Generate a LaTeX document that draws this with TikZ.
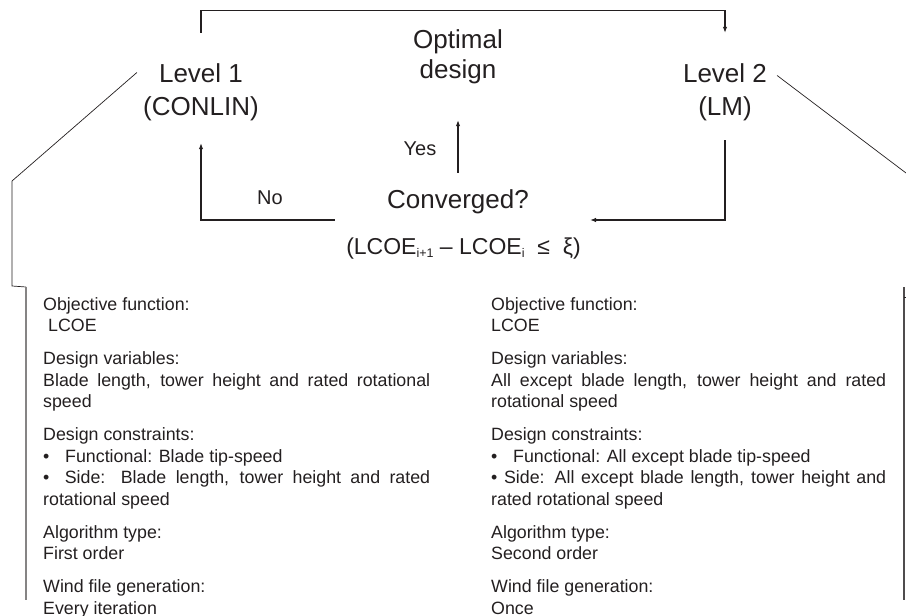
\documentclass[tikz,border=0pt]{standalone}
\usepackage{fontspec}
\setmainfont{Liberation Sans}
\usetikzlibrary{arrows.meta}
\definecolor{ink}{HTML}{231F20}
\newcommand{\jl}[2]{\makebox[#1][s]{#2}}
\newcommand{\sbs}[1]{\raisebox{-3pt}{\fontsize{12.5}{12.5}\selectfont #1}}
\begin{document}
\begin{tikzpicture}[x=1pt,y=-1pt,
  title/.style={font=\fontsize{26}{31}\selectfont, text=ink, inner sep=0pt, anchor=base, text height=19pt, text depth=6pt},
  small/.style={font=\fontsize{20}{24}\selectfont, text=ink, inner sep=0pt, anchor=base},
  formula/.style={font=\fontsize{23}{27}\selectfont, text=ink, inner sep=0pt, anchor=base},
  body/.style={font=\fontsize{17.8}{21.5}\selectfont, text=ink, inner sep=0pt, anchor=north west, align=left},
  flow/.style={line width=1.1pt, draw=ink},
  arr/.style={flow, -{Latex[length=6pt,width=4.5pt]}},
  link/.style={line width=0.7pt, draw=ink},
  bracket/.style={line width=1.2pt, draw=ink!55}]
\useasboundingbox (0,0) rectangle (906,616);

% titles
\node[title] (l1) at (201,82) {Level 1};
\node[title] (l1b) at (201,115) {(CONLIN)};
\node[title] (opt) at (458,48) {Optimal};
\node[title] (optb) at (458,78) {design};
\node[title] (l2) at (725,82) {Level 2};
\node[title] (l2b) at (725,115) {(LM)};
\node[title] (conv) at (458,208) {Converged?};
\node[small] (yes) at (420,155) {Yes};
\node[small] (no) at (270,204) {No};
\node[formula] (form) at (463.5,254) {(LCOE\sbs{i+1} – LCOE\sbs{i}\ \ ≤\ \ ξ)};

% flow connectors
\draw[arr] ([yshift=30pt]l1.north) |- ([yshift=52pt]l2.north) -- ([yshift=30pt]l2.north);
\draw[arr] ([yshift=16pt]conv.north) -- ([yshift=-36pt]optb.south);
\draw[arr] ([xshift=-52pt,yshift=-18.5pt]conv.west) -| ([yshift=-22pt]l1b.south);
\draw[arr] ([yshift=-19pt]l2b.south) |- ([xshift=61pt,yshift=-18.5pt]conv.east);

% blocks
\node[body] (lb) at (43,297) {Objective function:\\
\hspace*{5pt}LCOE\\[11.5pt]
Design variables:\\
\jl{387pt}{Blade length, tower height and rated rotational}\\
speed\\[11.5pt]
Design constraints:\\
\makebox[22pt][l]{•}Functional: Blade tip-speed\\
\jl{387pt}{•\hspace{6pt} Side: Blade length, tower height and rated}\\
rotational speed\\[11.5pt]
Algorithm type:\\
First order\\[11.5pt]
Wind file generation:\\
Every iteration};

\node[body] (rb) at (491,297) {Objective function:\\
LCOE\\[11.5pt]
Design variables:\\
\jl{395pt}{All except blade length, tower height and rated}\\
rotational speed\\[11.5pt]
Design constraints:\\
\makebox[22pt][l]{•}Functional: All except blade tip-speed\\
\jl{395pt}{• Side: All except blade length, tower height and}\\
rated rotational speed\\[11.5pt]
Algorithm type:\\
Second order\\[11.5pt]
Wind file generation:\\
Once};

% links from levels to blocks
\coordinate (lbt) at (26,287);
\coordinate (lbe) at (26,600);
\coordinate (rbt) at (904,287);
\coordinate (rbe) at (904,600);
\draw[link] ([xshift=-22pt,yshift=3pt]l1.west) -- (12,181) -- (12,286) -- (lbt);
\draw[link] ([xshift=10pt]l2.east) -- (906,173);
\draw[bracket] (lbt) -- (lbe);
\draw[bracket, draw=ink!80] (rbt) -- (rbe);
\draw[link] (904,297) -- (906,297);
\end{tikzpicture}
\end{document}
